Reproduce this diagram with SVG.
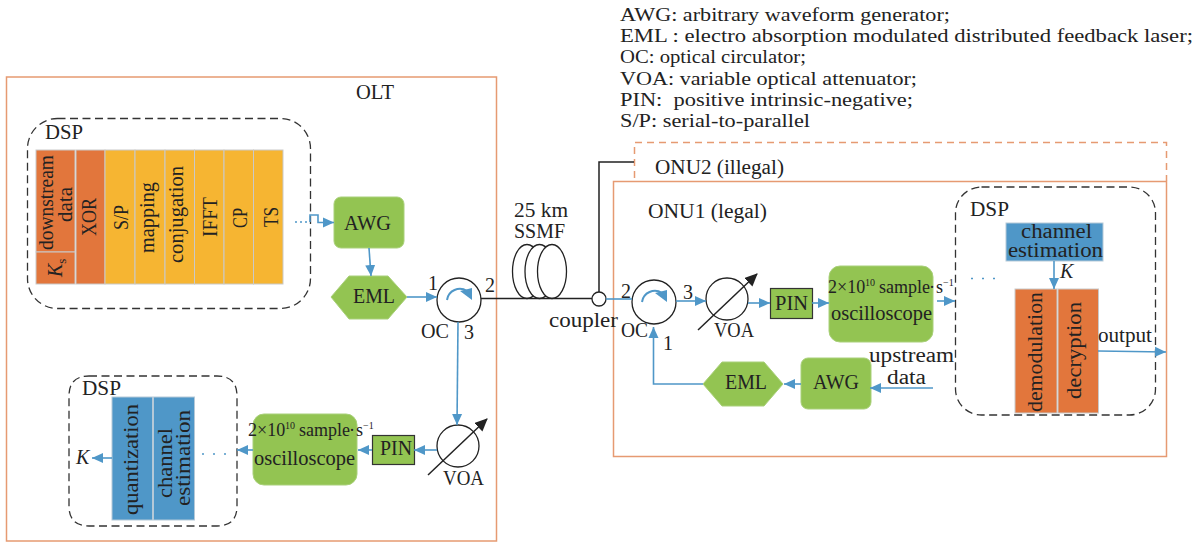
<svg xmlns="http://www.w3.org/2000/svg" width="1199" height="542" viewBox="0 0 1199 542">
<defs>
<marker id="ah" markerUnits="userSpaceOnUse" markerWidth="12" markerHeight="11" refX="11" refY="5.500" orient="auto"><path d="M0 .5L11 5.500L0 10.500Z" fill="#4f97c8"/></marker>
<marker id="bh" markerUnits="userSpaceOnUse" markerWidth="14" markerHeight="12" refX="12" refY="6" orient="auto"><path d="M0 0L13 6L0 12Z" fill="#222"/></marker>
</defs>
<style>
text{font-family:"Liberation Serif","Times New Roman",serif;fill:#222;font-size:20px}
.l{font-size:19px}
.s{font-size:18px}
.u{font-size:10px}
.box{fill:none;stroke:#e69a72;stroke-width:1.5}
.dash{fill:none;stroke:#e69a72;stroke-width:1.5;stroke-dasharray:7 5}
.dsp{fill:#fff;stroke:#333;stroke-width:1.3;stroke-dasharray:8 4.500}
.or{fill:#e2763c;stroke:#c9c9c9;stroke-width:1}
.ye{fill:#f6b532;stroke:#c9c9c9;stroke-width:1}
.bl{fill:#4f97c8;stroke:#b5c9d8;stroke-width:1}
.gr{fill:#93c452;stroke:#a9d07a;stroke-width:1}
.pin{fill:#93c452;stroke:#333;stroke-width:1.200}
.c{fill:#fff;stroke:#222;stroke-width:1.300}
.cn{fill:none;stroke:#4f97c8;stroke-width:1.600}
.arc{fill:none;stroke:#4f97c8;stroke-width:2}
.a{marker-end:url(#ah)}
.k{fill:none;stroke:#222;stroke-width:1.500}
.i{font-style:italic}
</style>

<g id="legend">
<text class="l" x="620" y="21" textLength="330" lengthAdjust="spacingAndGlyphs">AWG: arbitrary waveform generator;</text>
<text class="l" x="620" y="42" textLength="573" lengthAdjust="spacingAndGlyphs">EML : electro absorption modulated distributed feedback laser;</text>
<text class="l" x="620" y="63" textLength="186" lengthAdjust="spacingAndGlyphs">OC: optical circulator;</text>
<text class="l" x="620" y="85" textLength="297" lengthAdjust="spacingAndGlyphs">VOA: variable optical attenuator;</text>
<text class="l" x="620" y="106" textLength="293" lengthAdjust="spacingAndGlyphs" xml:space="preserve">PIN:  positive intrinsic-negative;</text>
<text class="l" x="620" y="127" textLength="190" lengthAdjust="spacingAndGlyphs">S/P: serial-to-parallel</text>
</g>

<g id="olt"><path class="box" d="M496.500 77H6.500V541H496.500Z"/><text x="356" y="99" textLength="38" lengthAdjust="spacingAndGlyphs">OLT</text></g>
<g id="onu2"><path class="dash" d="M634.500 178V142.500H1166.500V181"/><text x="655" y="174" textLength="129" lengthAdjust="spacingAndGlyphs">ONU2 (illegal)</text></g>
<g id="onu1"><rect class="box" x="613.500" y="181.500" width="553" height="275"/><text x="648" y="218" textLength="119" lengthAdjust="spacingAndGlyphs">ONU1 (legal)</text></g>

<g id="dsp-tx">
<rect class="dsp" x="27.500" y="118.500" width="283" height="190" rx="30"/>
<text x="45" y="139" textLength="38" lengthAdjust="spacingAndGlyphs">DSP</text>
</g>
<g id="block-downstream"><rect class="or" x="36" y="150" width="39" height="102"/><text transform="translate(53 250) rotate(-90)" textLength="95" lengthAdjust="spacingAndGlyphs">downstream</text><text transform="translate(72 222) rotate(-90)" textLength="35" lengthAdjust="spacingAndGlyphs">data</text></g>
<g id="block-ks"><rect class="or" x="36" y="252" width="39" height="32"/><text transform="translate(62 277) rotate(-90)"><tspan class="i">K</tspan><tspan font-size="13" dy="4">s</tspan></text></g>
<g id="block-xor"><rect class="or" x="76" y="150" width="29" height="134"/><text transform="translate(96 236) rotate(-90)" textLength="38" lengthAdjust="spacingAndGlyphs">XOR</text></g>
<g id="block-sp"><rect class="ye" x="105" y="150" width="30" height="134"/><text transform="translate(128 230) rotate(-90)" textLength="25" lengthAdjust="spacingAndGlyphs">S/P</text></g>
<g id="block-mapping"><rect class="ye" x="135" y="150" width="30" height="134"/><text transform="translate(154 253) rotate(-90)" textLength="71" lengthAdjust="spacingAndGlyphs">mapping</text></g>
<g id="block-conj"><rect class="ye" x="165" y="150" width="29.500" height="134"/><text transform="translate(183 263) rotate(-90)" textLength="97" lengthAdjust="spacingAndGlyphs">conjugation</text></g>
<g id="block-ifft"><rect class="ye" x="194.500" y="150" width="29.500" height="134"/><text transform="translate(217 237) rotate(-90)" textLength="40" lengthAdjust="spacingAndGlyphs">IFFT</text></g>
<g id="block-cp"><rect class="ye" x="224" y="150" width="29.500" height="134"/><text transform="translate(247 228) rotate(-90)" textLength="20" lengthAdjust="spacingAndGlyphs">CP</text></g>
<g id="block-ts"><rect class="ye" x="253.500" y="150" width="29.500" height="134"/><text transform="translate(278 227) rotate(-90)" textLength="20" lengthAdjust="spacingAndGlyphs">TS</text></g>

<g id="awg-olt"><rect class="gr" x="334" y="197" width="70" height="51" rx="7"/><text x="344" y="230" textLength="47" lengthAdjust="spacingAndGlyphs">AWG</text></g>
<g id="eml-olt"><path class="gr" d="M331 297L349 276H388L407 297L388 319H349Z"/><text x="353" y="303" textLength="42" lengthAdjust="spacingAndGlyphs">EML</text></g>
<g id="oc-olt"><circle class="c" cx="459" cy="300" r="22"/><path class="arc" d="M447 300A13 13 0 0 1 467 291"/><path d="M472 288V300L460 291Z" fill="#4f97c8"/><text x="428" y="290">1</text><text x="485" y="292">2</text><text x="421" y="338" textLength="28" lengthAdjust="spacingAndGlyphs">OC</text><text x="464" y="339">3</text></g>
<g id="fiber"><ellipse class="c" cx="527" cy="271.500" rx="14.500" ry="27"/><ellipse class="c" cx="539.500" cy="271.500" rx="14.500" ry="27"/><ellipse class="c" cx="552" cy="271.500" rx="14.500" ry="27"/><text x="514" y="217" textLength="54" lengthAdjust="spacingAndGlyphs">25 km</text><text x="514" y="238" textLength="51" lengthAdjust="spacingAndGlyphs">SSMF</text></g>
<g id="coupler"><circle class="c" cx="599" cy="299" r="7"/><text x="549" y="327" textLength="69" lengthAdjust="spacingAndGlyphs">coupler</text></g>

<g id="oc-onu"><circle class="c" cx="654" cy="302" r="22"/><path class="arc" d="M642 302A13 13 0 0 1 662 293"/><path d="M667 290V302L655 293Z" fill="#4f97c8"/><text x="621" y="298">2</text><text x="683" y="299">3</text><text x="621" y="337" textLength="27" lengthAdjust="spacingAndGlyphs">OC</text><text x="663" y="350">1</text></g>
<g id="voa-onu"><circle class="c" cx="727" cy="299" r="21"/><path class="k" d="M698 330L757 274" marker-end="url(#bh)"/><text x="714" y="337" textLength="40" lengthAdjust="spacingAndGlyphs">VOA</text></g>
<g id="pin-onu"><rect class="pin" x="770.500" y="288.500" width="42" height="30"/><text x="775" y="310" textLength="33" lengthAdjust="spacingAndGlyphs">PIN</text></g>
<g id="osc-onu"><rect class="gr" x="829" y="266" width="104" height="76" rx="11"/><text class="s" y="293"><tspan x="828">2×10</tspan><tspan class="u" x="865" dy="-7">10</tspan><tspan x="879" dy="7">sample</tspan><tspan x="929">·</tspan><tspan x="936">s</tspan><tspan class="u" x="943" dy="-7">−1</tspan></text><text x="831" y="320" textLength="101" lengthAdjust="spacingAndGlyphs">oscilloscope</text></g>
<g id="dsp-rx">
<rect class="dsp" x="955.500" y="187" width="200" height="228" rx="26"/>
<text x="970" y="216" textLength="39" lengthAdjust="spacingAndGlyphs">DSP</text>
</g>
<g id="block-ce-rx"><rect class="bl" x="1006" y="223" width="97" height="38"/><text x="1021" y="238" textLength="71" lengthAdjust="spacingAndGlyphs">channel</text><text x="1008" y="257" textLength="95" lengthAdjust="spacingAndGlyphs">estimation</text></g>
<text class="i" x="1060" y="278" id="label-k">K</text>
<g id="block-demod"><rect class="or" x="1015" y="289" width="42" height="124"/><text transform="translate(1042 412) rotate(-90)" textLength="120" lengthAdjust="spacingAndGlyphs">demodulation</text></g>
<g id="block-decrypt"><rect class="or" x="1058" y="289" width="40.500" height="124"/><text transform="translate(1081 399) rotate(-90)" textLength="97" lengthAdjust="spacingAndGlyphs">decryption</text></g>
<text x="1098" y="342" id="label-output" textLength="54" lengthAdjust="spacingAndGlyphs">output</text>
<g id="label-upstream"><text x="869" y="362" textLength="85" lengthAdjust="spacingAndGlyphs">upstream</text><text x="887" y="384" textLength="39" lengthAdjust="spacingAndGlyphs">data</text></g>
<g id="awg-onu"><rect class="gr" x="801" y="358" width="70" height="51" rx="7"/><text x="813" y="389" textLength="46" lengthAdjust="spacingAndGlyphs">AWG</text></g>
<g id="eml-onu"><path class="gr" d="M703 384L722 362H764L783 384L764 406H722Z"/><text x="725" y="389" textLength="42" lengthAdjust="spacingAndGlyphs">EML</text></g>

<g id="voa-olt"><circle class="c" cx="458" cy="446" r="21"/><path class="k" d="M428 475L487 419" marker-end="url(#bh)"/><text x="443" y="485" textLength="41" lengthAdjust="spacingAndGlyphs">VOA</text></g>
<g id="pin-olt"><rect class="pin" x="372.500" y="435.500" width="42" height="29"/><text x="380" y="455" textLength="32" lengthAdjust="spacingAndGlyphs">PIN</text></g>
<g id="osc-olt"><rect class="gr" x="253" y="414" width="104" height="71" rx="11"/><text class="s" y="436"><tspan x="248">2×10</tspan><tspan class="u" x="285" dy="-7">10</tspan><tspan x="299" dy="7">sample</tspan><tspan x="349">·</tspan><tspan x="356">s</tspan><tspan class="u" x="363" dy="-7">−1</tspan></text><text x="254" y="465" textLength="101" lengthAdjust="spacingAndGlyphs">oscilloscope</text></g>
<g id="dsp-olt">
<path class="dsp" d="M89 376H217Q237 376 237 396V506Q237 526 217 526H89Q69 526 69 506V396Q69 376 89 376Z"/>
<text x="82" y="395" textLength="39" lengthAdjust="spacingAndGlyphs">DSP</text>
</g>
<g id="block-quant"><rect class="bl" x="112" y="397" width="40.500" height="123"/><text transform="translate(138 515) rotate(-90)" textLength="111" lengthAdjust="spacingAndGlyphs">quantization</text></g>
<g id="block-ce-olt"><rect class="bl" x="153.500" y="397" width="41" height="123"/><text transform="translate(172 498) rotate(-90)" textLength="70" lengthAdjust="spacingAndGlyphs">channel</text><text transform="translate(190 506) rotate(-90)" textLength="96" lengthAdjust="spacingAndGlyphs">estimation</text></g>
<text class="i" x="76" y="464" id="label-k2">K</text>

<g id="connectors">
<path class="cn" stroke-dasharray="2 3" stroke-width="2" d="M295 222H308"/>
<path class="cn a" d="M310 222V215H318V222.500H334"/>
<path class="cn a" d="M369 248L371 276"/>
<path class="cn a" d="M407 297H437"/>
<path class="k" d="M481 298.500H592"/>
<path class="k" d="M599 292V162H634"/>
<path class="cn" d="M606 299H632"/>
<path class="cn a" d="M676 301H706"/>
<path class="cn a" d="M748 303H770"/>
<path class="cn a" d="M812 303H829"/>
<path class="cn a" d="M937 301H955"/>
<path class="cn a" d="M1054 261V289"/>
<path class="cn a" d="M1098 351L1166 352"/>
<path class="cn a" d="M933 388H870"/>
<path class="cn a" d="M801 384H784"/>
<path class="cn a" d="M703 384H653.500V327"/>
<path class="cn" stroke-dasharray="2 9" stroke-width="2" d="M971 278.500H998"/>
<path class="cn a" d="M458 322L457 425"/>
<path class="cn a" d="M437 450H414"/>
<path class="cn a" d="M372 450H358"/>
<path class="cn a" d="M253 450H237"/>
<path class="cn" stroke-dasharray="2 9" stroke-width="2" d="M202 454H228"/>
<path class="cn a" d="M112 458H92"/>
</g>
</svg>
